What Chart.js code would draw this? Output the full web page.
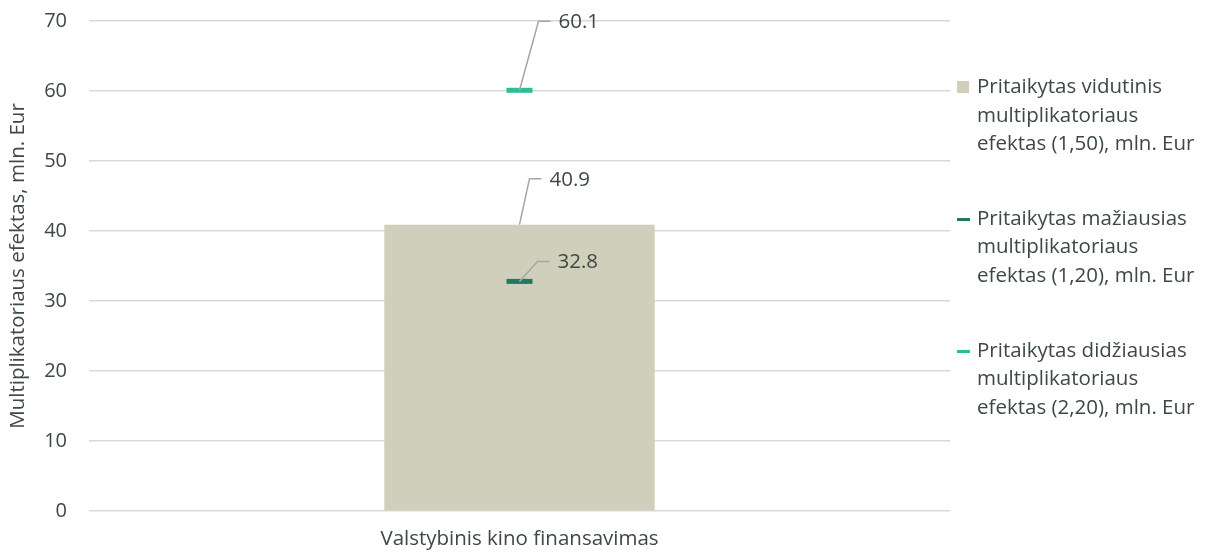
<!DOCTYPE html>
<html>
<head>
<meta charset="utf-8">
<script src="https://cdn.jsdelivr.net/npm/chart.js@4"></script>
<style>
  body { margin: 0; background: #fff; }
  #wrap { position: relative; width: 1208px; height: 554px; }
  #legend { position: absolute; left: 955px; top: 71px; font-family: "Open Sans", sans-serif; font-size: 20.5px; color: #3e4845; line-height: 28.6px; white-space: nowrap; }
  .item { position: relative; padding-left: 22px; margin-bottom: 46px; }
  .mark { position: absolute; left: 2px; }
</style>
</head>
<body>
<div id="wrap">
  <canvas id="grafico" width="1208" height="554"></canvas>
  <div id="legend"></div>
</div>
<script>
const categorias = ['Valstybinis kino finansavimas']
const nombres = [
    ['Pritaikytas vidutinis', 'multiplikatoriaus', 'efektas (1,50), mln. Eur'],
    ['Pritaikytas mažiausias', 'multiplikatoriaus', 'efektas (1,20), mln. Eur'],
    ['Pritaikytas didžiausias', 'multiplikatoriaus', 'efektas (2,20), mln. Eur']
]
const vidutinis = [40.9]
const maziausias = [32.8]
const didziausias = [60.1]
const colores = ['#d0cfbc', '#1e7b5f', '#2dbe94']
const yTicks = [0, 10, 20, 30, 40, 50, 60, 70]

const texto = '#3e4845'
const fuente = '"Open Sans", sans-serif'

// offsets of the data labels (leader elbow relative to the mark)
const etiquetas = [
    { dx: 10, dy: -46 },
    { dx: 18, dy: -20 },
    { dx: 19, dy: -69 }
]

const leaderPlugin = {
    id: 'leaders',
    afterDatasetsDraw(chart) {
        const ctx = chart.ctx
        chart.data.datasets.forEach((ds, i) => {
            const el = chart.getDatasetMeta(i).data[0]
            const o = etiquetas[i]
            const x0 = el.x, y0 = el.y
            const x1 = x0 + o.dx, y1 = y0 + o.dy
            ctx.save()
            ctx.strokeStyle = '#a6a6a6'
            ctx.lineWidth = 1.5
            ctx.beginPath()
            ctx.moveTo(x0, y0)
            ctx.lineTo(x1, y1)
            ctx.lineTo(x1 + 12, y1)
            ctx.stroke()
            ctx.fillStyle = texto
            ctx.font = '20.5px ' + fuente
            ctx.textBaseline = 'middle'
            ctx.fillText(ds.data[0].toFixed(1), x1 + 20, y1 + 1)
            ctx.restore()
        })
    }
}

new Chart('grafico', {
    data: {
        labels: categorias,
        datasets: [
            {
                type: 'bar',
                label: nombres[0],
                data: vidutinis,
                backgroundColor: colores[0],
                barPercentage: 0.314,
                categoryPercentage: 1,
                order: 3
            },
            {
                type: 'line',
                label: nombres[1],
                data: maziausias,
                showLine: false,
                pointStyle: 'line',
                pointRadius: 13,
                pointBorderWidth: 5,
                borderColor: colores[1],
                backgroundColor: colores[1],
                order: 1
            },
            {
                type: 'line',
                label: nombres[2],
                data: didziausias,
                showLine: false,
                pointStyle: 'line',
                pointRadius: 13,
                pointBorderWidth: 5,
                borderColor: colores[2],
                backgroundColor: colores[2],
                order: 2
            }
        ]
    },
    options: {
        responsive: false,
        animation: false,
        layout: { padding: { top: 21, right: 258, left: 0, bottom: 0 } },
        plugins: {
            legend: { display: false },
            tooltip: { enabled: false }
        },
        scales: {
            x: {
                grid: { display: false },
                border: { display: false },
                ticks: { color: texto, font: { family: fuente, size: 20.5 }, padding: 8 },
                afterFit: (s) => { s.height = 43 }
            },
            y: {
                min: 0,
                max: 70,
                afterBuildTicks: (s) => { s.ticks = yTicks.map((v) => ({ value: v })) },
                grid: { color: '#d9d9d9', lineWidth: 1.5, drawTicks: false },
                border: { display: false },
                ticks: { color: texto, font: { family: fuente, size: 20 }, padding: 22 },
                title: {
                    display: true,
                    text: 'Multiplikatoriaus efektas, mln. Eur',
                    color: texto,
                    font: { family: fuente, size: 20.5 },
                    padding: { top: 6, bottom: 4 }
                },
                afterFit: (s) => { s.width = 89; s.paddingTop = 0; s.paddingBottom = 0 }
            }
        }
    },
    plugins: [leaderPlugin]
})

// legend from the same series
const legend = document.getElementById('legend')
nombres.forEach((n, i) => {
    const item = document.createElement('div')
    item.className = 'item'
    const mark = document.createElement('span')
    mark.className = 'mark'
    mark.style.background = colores[i]
    if (i === 0) {
        mark.style.width = '12px'; mark.style.height = '12px'; mark.style.top = '10px'
    } else {
        mark.style.width = '13px'; mark.style.height = '3px'; mark.style.top = '15px'
    }
    item.appendChild(mark)
    item.innerHTML += n.join('<br>')
    legend.appendChild(item)
})
</script>
</body>
</html>
